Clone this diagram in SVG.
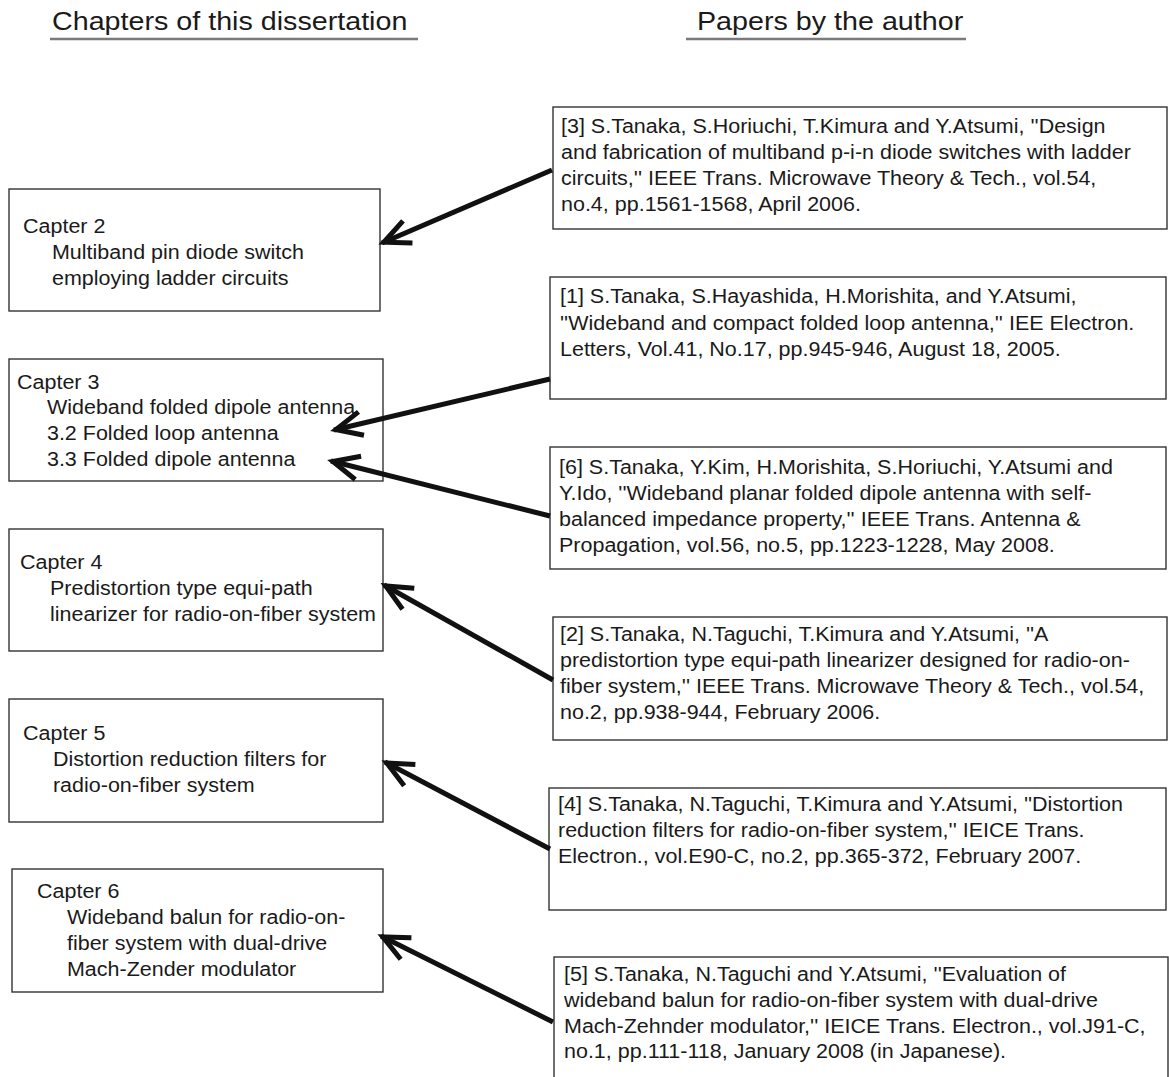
<svg xmlns="http://www.w3.org/2000/svg" width="1169" height="1077" viewBox="0 0 1169 1077">
<style>
text{font-family:"Liberation Sans",Arial,Helvetica,sans-serif;fill:#1a1a1a}
.h{font-size:25.5px}
.t{font-size:19.6px}
.box{fill:#fff;stroke:#333;stroke-width:1.4}
.ul{stroke:#7a7a7a;stroke-width:2.5}
.arr{stroke:#111;stroke-width:5;fill:none;marker-end:url(#ah)}
</style>
<defs>
<marker id="ah" markerUnits="userSpaceOnUse" orient="auto" markerWidth="40" markerHeight="40" refX="2" refY="0" viewBox="-32 -20 40 40" overflow="visible">
<path d="M-26,-12 L0,0 L-26,12" fill="none" stroke="#111" stroke-width="5" stroke-linejoin="miter"/>
</marker>
</defs>
<rect width="1169" height="1077" fill="#fff"/>
<g id="headers">
<text class="h" transform="matrix(1.125 0 0 1 52 0)" x="0" y="30">Chapters of this dissertation</text>
<line class="ul" x1="50" y1="39" x2="418" y2="39"/>
<text class="h" transform="matrix(1.125 0 0 1 697 0)" x="0" y="30">Papers by the author</text>
<line class="ul" x1="686" y1="39" x2="966" y2="39"/>
</g>
<g id="ch2">
<rect class="box" x="9" y="189" width="371" height="122"/>
<text class="t" transform="matrix(1.097 0 0 1 23 0)"><tspan x="0" y="233">Capter 2</tspan><tspan x="26.4" y="259">Multiband pin diode switch</tspan><tspan x="26.4" y="285">employing ladder circuits</tspan></text>
</g>
<g id="ch3">
<rect class="box" x="9" y="359" width="374" height="122"/>
<text class="t" transform="matrix(1.097 0 0 1 17 0)"><tspan x="0" y="389">Capter 3</tspan><tspan x="27.3" y="414">Wideband folded dipole antenna</tspan><tspan x="27.3" y="440">3.2 Folded loop antenna</tspan><tspan x="27.3" y="466">3.3 Folded dipole antenna</tspan></text>
</g>
<g id="ch4">
<rect class="box" x="9" y="529" width="374" height="122"/>
<text class="t" transform="matrix(1.097 0 0 1 20 0)"><tspan x="0" y="569">Capter 4</tspan><tspan x="27.3" y="595">Predistortion type equi-path</tspan><tspan x="27.3" y="621">linearizer for radio-on-fiber system</tspan></text>
</g>
<g id="ch5">
<rect class="box" x="9" y="699" width="374" height="123"/>
<text class="t" transform="matrix(1.097 0 0 1 23 0)"><tspan x="0" y="740">Capter 5</tspan><tspan x="27.3" y="766">Distortion reduction filters for</tspan><tspan x="27.3" y="792">radio-on-fiber system</tspan></text>
</g>
<g id="ch6">
<rect class="box" x="12" y="869" width="371" height="123"/>
<text class="t" transform="matrix(1.097 0 0 1 37 0)"><tspan x="0" y="898">Capter 6</tspan><tspan x="27.3" y="924">Wideband balun for radio-on-</tspan><tspan x="27.3" y="950">fiber system with dual-drive</tspan><tspan x="27.3" y="976">Mach-Zender modulator</tspan></text>
</g>
<g id="ref3">
<rect class="box" x="553" y="107" width="614" height="122"/>
<text class="t" transform="matrix(1.097 0 0 1 561 0)"><tspan x="0" y="133">[3] S.Tanaka, S.Horiuchi, T.Kimura and Y.Atsumi, ''Design</tspan><tspan x="0" y="159">and fabrication of multiband p-i-n diode switches with ladder</tspan><tspan x="0" y="185">circuits,'' IEEE Trans. Microwave Theory &amp; Tech., vol.54,</tspan><tspan x="0" y="211">no.4, pp.1561-1568, April 2006.</tspan></text>
</g>
<g id="ref1">
<rect class="box" x="550" y="277" width="616" height="122"/>
<text class="t" transform="matrix(1.097 0 0 1 560 0)"><tspan x="0" y="303">[1] S.Tanaka, S.Hayashida, H.Morishita, and Y.Atsumi,</tspan><tspan x="0" y="330">''Wideband and compact folded loop antenna,'' IEE Electron.</tspan><tspan x="0" y="356">Letters, Vol.41, No.17, pp.945-946, August 18, 2005.</tspan></text>
</g>
<g id="ref6">
<rect class="box" x="550" y="447" width="616" height="122"/>
<text class="t" transform="matrix(1.097 0 0 1 559 0)"><tspan x="0" y="474">[6] S.Tanaka, Y.Kim, H.Morishita, S.Horiuchi, Y.Atsumi and</tspan><tspan x="0" y="500">Y.Ido, ''Wideband planar folded dipole antenna with self-</tspan><tspan x="0" y="526">balanced impedance property,'' IEEE Trans. Antenna &amp;</tspan><tspan x="0" y="552">Propagation, vol.56, no.5, pp.1223-1228, May 2008.</tspan></text>
</g>
<g id="ref2">
<rect class="box" x="553" y="617" width="614" height="123"/>
<text class="t" transform="matrix(1.097 0 0 1 560 0)"><tspan x="0" y="641">[2] S.Tanaka, N.Taguchi, T.Kimura and Y.Atsumi, ''A</tspan><tspan x="0" y="667">predistortion type equi-path linearizer designed for radio-on-</tspan><tspan x="0" y="693">fiber system,'' IEEE Trans. Microwave Theory &amp; Tech., vol.54,</tspan><tspan x="0" y="719">no.2, pp.938-944, February 2006.</tspan></text>
</g>
<g id="ref4">
<rect class="box" x="549" y="788" width="617" height="122"/>
<text class="t" transform="matrix(1.097 0 0 1 558 0)"><tspan x="0" y="811">[4] S.Tanaka, N.Taguchi, T.Kimura and Y.Atsumi, ''Distortion</tspan><tspan x="0" y="837">reduction filters for radio-on-fiber system,'' IEICE Trans.</tspan><tspan x="0" y="863">Electron., vol.E90-C, no.2, pp.365-372, February 2007.</tspan></text>
</g>
<g id="ref5">
<rect class="box" x="554" y="957" width="614" height="130"/>
<text class="t" transform="matrix(1.097 0 0 1 564 0)"><tspan x="0" y="981">[5] S.Tanaka, N.Taguchi and Y.Atsumi, ''Evaluation of</tspan><tspan x="0" y="1007">wideband balun for radio-on-fiber system with dual-drive</tspan><tspan x="0" y="1033">Mach-Zehnder modulator,'' IEICE Trans. Electron., vol.J91-C,</tspan><tspan x="0" y="1058">no.1, pp.111-118, January 2008 (in Japanese).</tspan></text>
</g>
<g id="connectors">
<line class="arr" x1="552" y1="170" x2="382" y2="243"/>
<line class="arr" x1="550" y1="379" x2="334" y2="430"/>
<line class="arr" x1="550" y1="516" x2="331" y2="461"/>
<line class="arr" x1="553" y1="680" x2="384" y2="585"/>
<line class="arr" x1="550" y1="849" x2="385" y2="762"/>
<line class="arr" x1="553" y1="1022" x2="381" y2="936"/>
</g>
</svg>
